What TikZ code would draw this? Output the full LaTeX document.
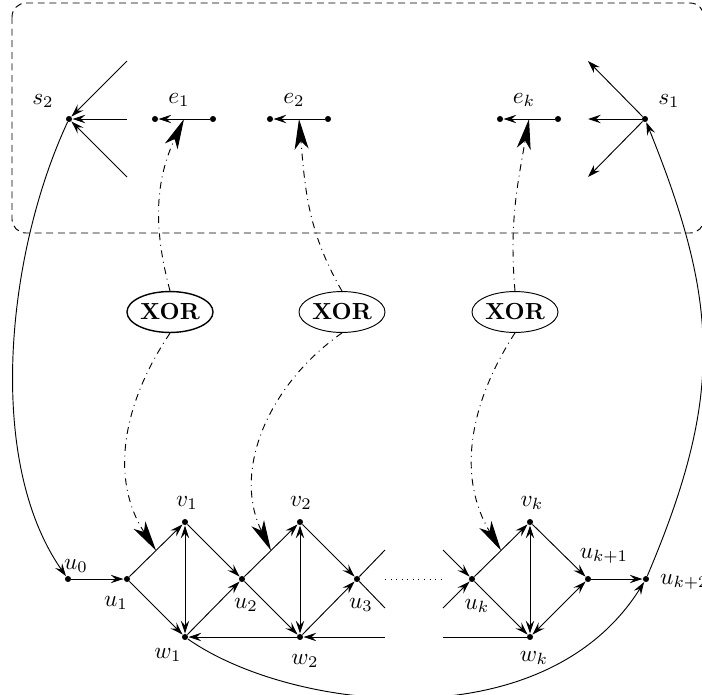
\documentclass[tikz,border=0pt]{standalone}
\usepackage{amsmath}
\usetikzlibrary{shapes.geometric, arrows}
\usetikzlibrary{positioning}
\usetikzlibrary{arrows.meta}

\begin{document}
\begin{tikzpicture}[x=0.43pt, y=-0.43pt,
  >={Stealth[length=5.5pt, width=3.6pt, inset=2pt]},
  vertex/.style={circle, fill, inner sep=0pt, minimum size=2.6pt},
  gate/.style={ellipse, draw, inner sep=0pt, minimum width=37pt,
    minimum height=17.6pt, font=\bfseries},
  control/.style={dash dot, -{Stealth[length=13pt, width=6pt, inset=3.5pt]}}]

\useasboundingbox (0,0) rectangle (702,695);
\clip (0,0) rectangle (702,695);

\draw [dash pattern=on 3pt off 2pt, rounded corners=6] (12,3) rectangle (704,233);

\node [vertex] (s2) at (69,119) {};
\node [vertex] (s1) at (645,119) {};
\node at (43,101) {$s_2$};
\node at (669,101) {$s_1$};

\foreach \y [count=\i] in {61,119,177}
{
  \coordinate (s2-in-\i) at (127,\y);
  \draw [->] (s2-in-\i) -- (s2);
  \coordinate (s1-out-\i) at (588,\y);
  \draw [->] (s1) -- (s1-out-\i);
}

\foreach \n/\x in {1/155, 2/270, k/500}
{
  \node [vertex] (e\n-a) at (\x,119) {};
  \node [vertex] (e\n-b) at (\x+58,119) {};
  \draw [->] (e\n-b) -- (e\n-a) coordinate [midway] (e\n-mid);
  \node at (\x+24,100) {$e_{\n}$};
}

\foreach \x/\w [count=\i] in {170/0.6pt, 342/0.4pt, 515/0.4pt}
  \node [gate, line width=\w] (xor-\i) at (\x,312) {XOR};

\foreach \n/\x in {1/127, 2/242, k/472}
{
  \node [vertex] (u\n) at (\x,579) {};
  \node [vertex] (v\n) at (\x+58,522) {};
  \node [vertex] (w\n) at (\x+58,637) {};
  \draw [->] (u\n) -- (v\n) coordinate [midway] (uv-\n);
  \draw [->] (u\n) -- (w\n);
  \draw [<->] (v\n) -- (w\n);
}
\node [vertex] (u0) at (68,579) {};
\node [vertex] (u3) at (357,579) {};
\node [vertex] (uk1) at (588,579) {};
\node [vertex] (uk2) at (646,579) {};

\coordinate (u3-a) at (385,550);
\coordinate (u3-b) at (385,608);
\coordinate (uk-a) at (443,550);
\coordinate (uk-b) at (443,608);
\coordinate (w2-in) at (385,637);
\coordinate (wk-out) at (443,637);
\coordinate (gap-l) at (385,579);
\coordinate (gap-r) at (443,579);

\draw [->] (u0) -- (u1);
\draw [->] (v1) -- (u2);
\draw [->] (w1) -- (u2);
\draw [->] (v2) -- (u3);
\draw [->] (w2) -- (u3);
\draw [->] (w2) -- (w1);
\draw [->] (w2-in) -- (w2);
\draw (u3) -- (u3-a);
\draw (u3) -- (u3-b);
\draw [->] (uk-a) -- (uk);
\draw [->] (uk-b) -- (uk);
\draw (wk) -- (wk-out);
\draw [dotted] (gap-l) -- (gap-r);
\draw [->] (vk) -- (uk1);
\draw [<->] (wk) -- (uk1);
\draw [->] (uk1) -- (uk2);

\node at (76,566) {$u_0$};
\node at (116,603) {$u_1$};
\node at (187,503) {$v_1$};
\node at (168,655) {$w_1$};
\node at (246,605) {$u_2$};
\node at (301,503) {$v_2$};
\node at (305,661) {$w_2$};
\node at (361,605) {$u_3$};
\node at (477,606) {$u_k$};
\node at (532,503) {$v_k$};
\node at (534,658) {$w_k$};
\node at (604,556) {$u_{k+1}$};
\node [anchor=west] at (652,582) {$u_{k+2}$};

\draw [->] (s2) to [out=245, in=125, looseness=0.8] (u0);
\draw [->] (w1) to [out=-35, in=238, out looseness=0.7, in looseness=1.05] (uk2);
\draw [->] (uk2) to [out=67, in=-68, looseness=1.1] (s1);

\draw [control] (xor-1.north) to [out=105, in=-115] (e1-mid);
\draw [control] (xor-2.north) to [out=120, in=-85] (e2-mid);
\draw [control] (xor-3.north) to [out=95, in=-100] (ek-mid);
\draw [control] (xor-1.south) to [out=236, in=123] (uv-1);
\draw [control] (xor-2.south) to [out=215, in=116] (uv-2);
\draw [control] (xor-3.south) to [out=237, in=121] (uv-k);

\end{tikzpicture}
\end{document}
